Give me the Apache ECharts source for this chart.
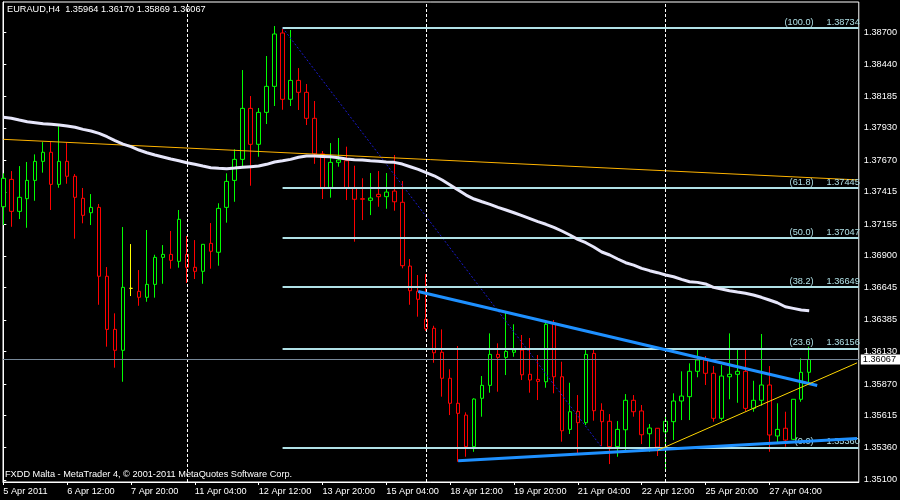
<!DOCTYPE html>
<html><head><meta charset="utf-8">
<script src="https://cdn.jsdelivr.net/npm/echarts@6/dist/echarts.min.js"></script>
<style>html,body{margin:0;padding:0;background:#000;}#c{width:900px;height:500px;}</style>
</head><body><div id="c"></div>
<script>
// EURAUD H4 bars, index 0 = 5 Apr 2011 04:00
const opens=[1.37295,1.37515,1.37258,1.37360,1.37507,1.37660,1.37733,1.37475,1.37660,1.37540,
1.37363,1.37247,1.37290,1.36736,1.36309,1.36141,1.36639,1.36615,1.36567,1.36671,
1.36888,1.36912,1.36856,1.36912,1.36808,1.36776,1.37001,1.36929,1.37290,1.37507,
1.37676,1.38086,1.37797,1.38054,1.38263,1.38692,1.38159,1.38311,1.38215,1.38006,
1.37720,1.37443,1.37652,1.37665,1.37443,1.37360,1.37347,1.37395,1.37376,1.37421,
1.37331,1.36818,1.36615,1.36390,1.36318,1.36125,1.35916,1.35715,1.35620,1.35366,
1.35755,1.35859,1.36108,1.36084,1.36125,1.36143,1.35948,1.35907,1.35888,1.36358,
1.35928,1.35505,1.35650,1.35559,1.36116,1.35658,1.35570,1.35366,1.35502,1.35739,
1.35653,1.35470,1.35514,1.35486,1.35567,1.35733,1.35768,1.35972,1.36063,1.35956,
1.35594,1.35928,1.35948,1.35972,1.35674,1.35739,1.35862,1.35452,1.35514,1.35425,
1.35747,1.35964];
const closes=[1.37524,1.37258,1.37371,1.37507,1.37660,1.37733,1.37475,1.37660,1.37540,1.37371,
1.37226,1.37290,1.36736,1.36309,1.36141,1.36647,1.36639,1.36567,1.36671,1.36888,
1.36912,1.36864,1.37194,1.36808,1.36776,1.36993,1.36937,1.37282,1.37499,1.37676,
1.38086,1.37797,1.38054,1.38263,1.38684,1.38159,1.38311,1.38215,1.38006,1.37720,
1.37446,1.37652,1.37671,1.37443,1.37355,1.37355,1.37365,1.37376,1.37413,1.37335,
1.36821,1.36620,1.36551,1.36314,1.36121,1.35916,1.35715,1.35634,1.35366,1.35749,
1.35859,1.36108,1.36084,1.36132,1.36143,1.35944,1.35902,1.35891,1.36350,1.35928,
1.35494,1.35647,1.35559,1.36108,1.35655,1.35567,1.35366,1.35505,1.35739,1.35647,
1.35462,1.35516,1.35363,1.35570,1.35733,1.35773,1.35972,1.36063,1.35956,1.35594,
1.35934,1.35948,1.35972,1.35674,1.35739,1.35862,1.35460,1.35505,1.35419,1.35747,
1.35964,1.36067];
const highs=[1.37564,1.37582,1.37622,1.37655,1.37716,1.37815,1.37815,1.37942,1.37813,1.37558,
1.37446,1.37397,1.37317,1.36810,1.36438,1.37132,1.36995,1.36786,1.37108,1.36909,
1.36987,1.37100,1.37269,1.37060,1.37027,1.36993,1.37164,1.37323,1.37564,1.37757,
1.38394,1.38185,1.38089,1.38507,1.38748,1.38724,1.38716,1.38410,1.38282,1.38145,
1.37743,1.37807,1.37848,1.37778,1.37625,1.37524,1.37566,1.37582,1.37566,1.37711,
1.37502,1.36875,1.36746,1.36754,1.36338,1.36309,1.35988,1.36175,1.35642,1.35755,
1.35934,1.36277,1.36197,1.36449,1.36350,1.36264,1.36240,1.36103,1.36371,1.36384,
1.36049,1.35880,1.35781,1.36143,1.36143,1.35715,1.35628,1.35572,1.35789,1.35781,
1.35701,1.35548,1.35516,1.35620,1.35795,1.35972,1.36036,1.36143,1.36095,1.36014,
1.36022,1.36277,1.36143,1.36143,1.35896,1.36272,1.36014,1.35715,1.35647,1.35747,
1.36076,1.36170];
const lows=[1.37148,1.37134,1.37196,1.37126,1.37343,1.37569,1.37269,1.37448,1.37480,1.37038,
1.37162,1.37148,1.36507,1.36170,1.36001,1.35888,1.36577,1.36499,1.36531,1.36564,
1.36676,1.36797,1.36805,1.36682,1.36714,1.36676,1.36797,1.36821,1.37167,1.37335,
1.37622,1.37464,1.37697,1.37960,1.38105,1.38075,1.38105,1.38073,1.37952,1.37640,
1.37357,1.37368,1.37617,1.37349,1.37014,1.37188,1.37228,1.37295,1.37279,1.37263,
1.36800,1.36507,1.36411,1.36296,1.36041,1.35768,1.35620,1.35245,1.35285,1.35325,
1.35607,1.35800,1.35808,1.35942,1.36089,1.35902,1.35800,1.35741,1.35840,1.35795,
1.35406,1.35468,1.35313,1.35540,1.35575,1.35371,1.35226,1.35285,1.35339,1.35607,
1.35387,1.35325,1.35291,1.35165,1.35419,1.35580,1.35580,1.35924,1.35862,1.35567,
1.35575,1.35747,1.35719,1.35652,1.35647,1.35695,1.35325,1.35393,1.35366,1.35419,
1.35727,1.35869];
// moving average (white line)
const maValues=[1.38014,1.38006,1.37992,1.37979,1.37971,1.37963,1.37958,1.37952,1.37944,1.37934,
1.37917,1.37904,1.37885,1.37858,1.37826,1.37799,1.37778,1.37751,1.37729,1.37711,
1.37695,1.37679,1.37665,1.37649,1.37636,1.37622,1.37609,1.37604,1.37601,1.37606,
1.37612,1.37617,1.37622,1.37636,1.37655,1.37665,1.37676,1.37693,1.37703,1.37703,
1.37700,1.37697,1.37689,1.37679,1.37673,1.37671,1.37665,1.37660,1.37655,1.37652,
1.37638,1.37617,1.37596,1.37569,1.37544,1.37510,1.37470,1.37429,1.37389,1.37357,
1.37335,1.37314,1.37290,1.37269,1.37247,1.37223,1.37199,1.37175,1.37154,1.37129,
1.37100,1.37068,1.37033,1.37006,1.36971,1.36931,1.36907,1.36875,1.36845,1.36826,
1.36800,1.36781,1.36765,1.36746,1.36732,1.36711,1.36692,1.36687,1.36674,1.36647,
1.36633,1.36620,1.36609,1.36599,1.36585,1.36567,1.36545,1.36523,1.36491,1.36478,
1.36465,1.36459];
// drawn objects: [bar index, price]
const orangeLine=[[0,1.37837],[107,1.37511]];
const blueResistance=[[52,1.36613],[102,1.35858]];
const blueSupport=[[57,1.35253],[107,1.35432]];
const yellowLine=[[82,1.35337],[107,1.36040]];
const fibDiagonal=[[35,1.38734],[75,1.35360]];
const fibStartBar=35;
const fibLevels=[1.38734,1.37445,1.37047,1.36649,1.36156,1.35360];
const fibRatios=['100.0','61.8','50.0','38.2','23.6','0.0'];
const separators=[23,53,83];
const bidPrice=1.36067;
// axis ticks
const xTickBars=[0,8,16,24,32,40,48,56,64,72,80,88,96];
const xTickLabels=['5 Apr 2011','6 Apr 12:00','7 Apr 20:00','11 Apr 04:00','12 Apr 12:00','13 Apr 20:00','15 Apr 04:00','18 Apr 12:00','19 Apr 20:00','21 Apr 04:00','22 Apr 12:00','25 Apr 20:00','27 Apr 04:00'];
const yTickValues=[1.38700,1.38440,1.38185,1.37930,1.37670,1.37415,1.37155,1.36900,1.36645,1.36385,1.36130,1.35870,1.35615,1.35360,1.35100];
const yTickLabels=['1.38700','1.38440','1.38185','1.37930','1.37670','1.37415','1.37155','1.36900','1.36645','1.36385','1.36130','1.35870','1.35615','1.35360','1.35100'];

const FONT='Liberation Sans', FS=9.2;
const X_MIN=-0.0375, X_MAX=107.2125, Y_MIN=1.35082, Y_MAX=1.389412;

const candleData=opens.map((o,i)=>{
  const v=[i,o,closes[i],lows[i],highs[i]];
  if(o===closes[i]) return {value:v,itemStyle:{borderColor:'#ffff00',borderColor0:'#ffff00'}};
  return v;
});
const lineSeries=(pts,color,width,type,z)=>({type:'line',data:pts,symbol:'none',showSymbol:false,silent:true,
  lineStyle:{color:color,width:width,type:type||'solid'},z:z||4,clip:true,animation:false});

const chart=echarts.init(document.getElementById('c'),null,{renderer:'canvas'});
chart.setOption({
  backgroundColor:'#000',
  animation:false,
  grid:{left:3,right:39,top:2,bottom:18,show:true,borderColor:'#fff',borderWidth:1,backgroundColor:'#000'},
  xAxis:{type:'value',min:X_MIN,max:X_MAX,splitLine:{show:false},
    axisLine:{show:true,lineStyle:{color:'#fff'}},
    axisTick:{show:true,length:3,lineStyle:{color:'#fff'},customValues:xTickBars},
    axisLabel:{color:'#fff',fontFamily:FONT,fontSize:FS,margin:5,align:'left',customValues:xTickBars,
      formatter:v=>{const i=xTickBars.findIndex(b=>Math.abs(b-v)<1e-6);return i>=0?xTickLabels[i]:'';}}},
  yAxis:{type:'value',position:'right',min:Y_MIN,max:Y_MAX,scale:true,splitLine:{show:false},
    axisLine:{show:true,lineStyle:{color:'#fff'}},
    axisTick:{show:true,length:3,lineStyle:{color:'#fff'},customValues:yTickValues},
    axisLabel:{color:'#fff',fontFamily:FONT,fontSize:FS,margin:5,customValues:yTickValues,
      formatter:v=>{const i=yTickValues.findIndex(b=>Math.abs(b-v)<1e-7);return i>=0?yTickLabels[i]:'';}}},
  series:[
    {type:'candlestick',data:candleData,encode:{x:0,y:[1,2,3,4]},barWidth:4,z:3,clip:true,silent:true,animation:false,
      itemStyle:{color:'#000',color0:'#000',borderColor:'#00ff00',borderColor0:'#ff0000',borderWidth:1}},
    Object.assign(lineSeries(maValues.map((v,i)=>[i,v]),'#e6e6fa',3,'solid',5),{
      markLine:{symbol:'none',silent:true,animation:false,precision:5,
        data:[
          ...separators.map(k=>({xAxis:k,lineStyle:{color:'#fff',width:1,type:[3,2]},label:{show:false}})),
          {yAxis:bidPrice,lineStyle:{color:'#778899',width:1,type:'solid'},
            label:{show:true,position:'end',distance:2,formatter:bidPrice.toFixed(5),backgroundColor:'#fff',color:'#000',
              fontFamily:FONT,fontSize:FS,padding:[1,4,0,2]}}
        ]}}),
    lineSeries(orangeLine,'#ffb400',1,'solid',4),
    Object.assign(lineSeries(fibDiagonal,'#1a1ad0',1,[2,2],4),{
      markLine:{symbol:'none',silent:true,animation:false,precision:5,
        lineStyle:{color:'#b0e0e6',width:2,type:'solid'},
        label:{show:true,position:'insideEndTop',distance:[-1,1],color:'#b0e0e6',fontFamily:FONT,fontSize:FS,
          formatter:p=>'{a|('+fibRatios[p.dataIndex]+')}{b|'+fibLevels[p.dataIndex].toFixed(5)+'}',
          rich:{a:{color:'#b0e0e6',fontFamily:FONT,fontSize:FS,padding:[0,13,0,0]},b:{color:'#b0e0e6',fontFamily:FONT,fontSize:FS}}},
        data:fibLevels.map(lv=>[{coord:[fibStartBar,lv]},{coord:[X_MAX,lv]}])}}),
    lineSeries(blueResistance,'#1e90ff',3,'solid',6),
    lineSeries(blueSupport,'#1e90ff',3,'solid',6),
    lineSeries(yellowLine,'#ffd700',1,'solid',6)
  ],
  graphic:[
    {type:'text',left:7,top:5,z:100,style:{text:'EURAUD,H4  1.35964 1.36170 1.35869 1.36067',fill:'#fff',font:FS+'px '+FONT}},
    {type:'text',left:5,top:470,z:100,style:{text:'FXDD Malta - MetaTrader 4, \u00a9 2001-2011 MetaQuotes Software Corp.',fill:'#fff',font:FS+'px '+FONT}}
  ]
});
</script></body></html>
